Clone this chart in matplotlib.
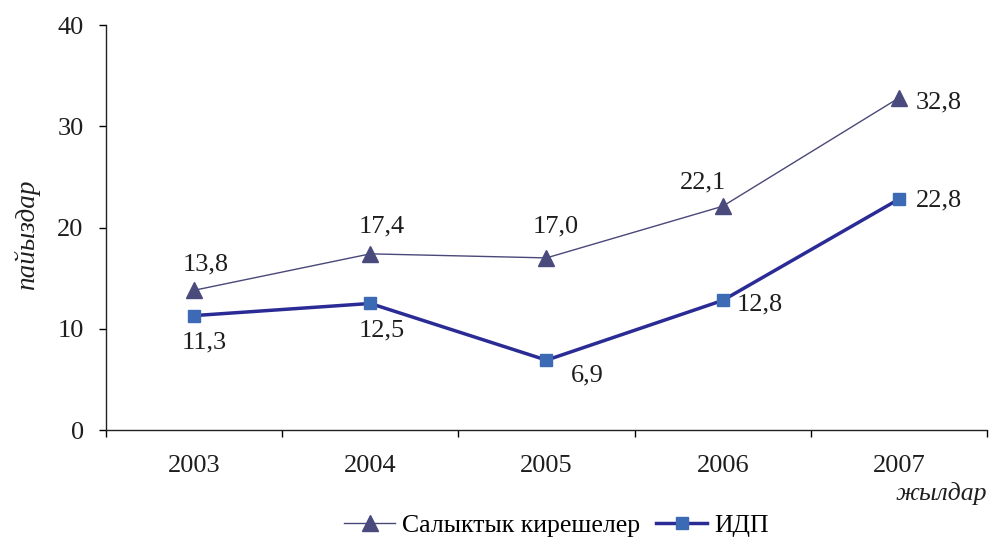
import matplotlib.pyplot as plt

plt.rcParams['font.family'] = ['Liberation Serif', 'DejaVu Serif']

years = ["2003", "2004", "2005", "2006", "2007"]
tax_income = [13.8, 17.4, 17.0, 22.1, 32.8]
gdp = [11.3, 12.5, 6.9, 12.8, 22.8]

tax_label = "Салыктык кирешелер"
gdp_label = "ИДП"

# label offsets in pixels (dx, dy), y up
tax_offsets = [(12, 26), (11, 27), (9, 31), (-20, 24), (40, -5)]
gdp_offsets = [(10, -27), (11, -27), (41, -15), (37, -4), (40, -1)]

FS = 19
TXT = "#1e1e1e"

fig = plt.figure(figsize=(9.9, 5.38), dpi=100)
ax = fig.add_axes([0.107, 0.2007, 0.89, 0.7528])

x = list(range(len(years)))
ax.plot(x, tax_income, color="#4a4878", linewidth=1.0, marker="^",
        markersize=11, markerfacecolor="#4b4a7c", markeredgecolor="#4b4a7c",
        label=tax_label)
ax.plot(x, gdp, color="#2b2b96", linewidth=2.5, marker="s",
        markersize=8.5, markerfacecolor="#3d6ab4", markeredgecolor="#3d6ab4",
        label=gdp_label)

px = 0.72
for xi, v, (dx, dy) in zip(x, tax_income, tax_offsets):
    ax.annotate(f"{v:.1f}".replace(".", ","), (xi, v),
                xytext=(dx * px, dy * px), textcoords="offset points",
                ha="center", va="center", fontsize=FS, color=TXT)
for xi, v, (dx, dy) in zip(x, gdp, gdp_offsets):
    ax.annotate(f"{v:.1f}".replace(".", ","), (xi, v),
                xytext=(dx * px, dy * px), textcoords="offset points",
                ha="center", va="center", fontsize=FS, color=TXT)

ax.set_xlim(-0.5, len(years) - 0.5)
ax.set_ylim(0, 40)
ax.set_yticks([0, 10, 20, 30, 40])
ax.set_xticks([i - 0.5 for i in range(len(years) + 1)])
ax.set_xticklabels([])
ax.set_xticks(x, minor=True)
ax.set_xticklabels(years, minor=True)
ax.tick_params(axis="x", which="major", direction="out", length=5, width=1)
ax.tick_params(axis="x", which="minor", length=0, pad=18, labelsize=FS,
               labelcolor=TXT)
ax.tick_params(axis="y", direction="out", length=5, width=1, pad=11,
               labelsize=FS, labelcolor=TXT)

for s in ["top", "right"]:
    ax.spines[s].set_visible(False)
for s in ["left", "bottom"]:
    ax.spines[s].set_linewidth(1.0)
    ax.spines[s].set_color("#222222")

fig.text(0.027, 0.563, "пайыздар", rotation=90, ha="center", va="center",
         fontsize=19.5, style="italic", color=TXT)
fig.text(0.997, 0.083, "жылдар", ha="right", va="center",
         fontsize=18.5, style="italic", color=TXT)

fig.legend(loc="center", bbox_to_anchor=(0.562, 0.024), ncol=2,
           frameon=False, fontsize=18.5, handlelength=2.0, columnspacing=0.6,
           handletextpad=0.27, borderaxespad=0)

fig.savefig("out.png", dpi=100)
